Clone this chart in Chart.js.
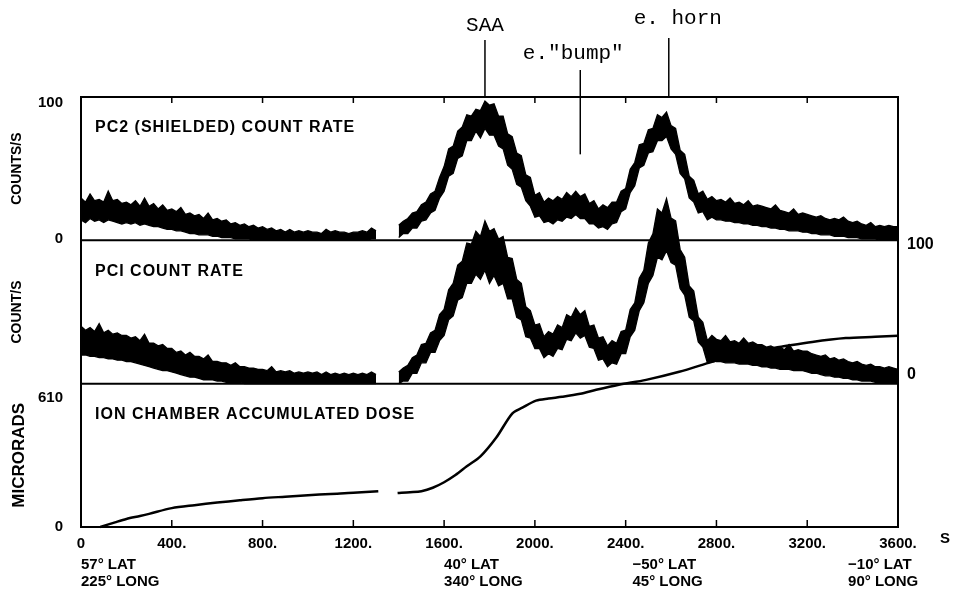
<!DOCTYPE html>
<html>
<head>
<meta charset="utf-8">
<script src="https://cdn.jsdelivr.net/npm/chart.js@4.4.1/dist/chart.umd.min.js"></script>
<style>
  html, body { margin: 0; padding: 0; background: #fff; }
  #wrap { width: 953px; height: 596px; }
</style>
</head>
<body>
<div id="wrap"><canvas id="myChart" width="953" height="596"></canvas></div>
<script>
// tiempo de vuelo (s), cada 20 s
const tiempos = [
  0, 20, 40, 60, 80, 100, 120, 140, 160, 180,
  200, 220, 240, 260, 280, 300, 320, 340, 360, 380,
  400, 420, 440, 460, 480, 500, 520, 540, 560, 580,
  600, 620, 640, 660, 680, 700, 720, 740, 760, 780,
  800, 820, 840, 860, 880, 900, 920, 940, 960, 980,
  1000, 1020, 1040, 1060, 1080, 1100, 1120, 1140, 1160, 1180,
  1200, 1220, 1240, 1260, 1280, 1300, 1320, 1340, 1360, 1380,
  1400, 1420, 1440, 1460, 1480, 1500, 1520, 1540, 1560, 1580,
  1600, 1620, 1640, 1660, 1680, 1700, 1720, 1740, 1760, 1780,
  1800, 1820, 1840, 1860, 1880, 1900, 1920, 1940, 1960, 1980,
  2000, 2020, 2040, 2060, 2080, 2100, 2120, 2140, 2160, 2180,
  2200, 2220, 2240, 2260, 2280, 2300, 2320, 2340, 2360, 2380,
  2400, 2420, 2440, 2460, 2480, 2500, 2520, 2540, 2560, 2580,
  2600, 2620, 2640, 2660, 2680, 2700, 2720, 2740, 2760, 2780,
  2800, 2820, 2840, 2860, 2880, 2900, 2920, 2940, 2960, 2980,
  3000, 3020, 3040, 3060, 3080, 3100, 3120, 3140, 3160, 3180,
  3200, 3220, 3240, 3260, 3280, 3300, 3320, 3340, 3360, 3380,
  3400, 3420, 3440, 3460, 3480, 3500, 3520, 3540, 3560, 3580,
  3600
];

// PC2 (shielded) counts/s: borde superior e inferior de la banda de ruido
const pc2Alto = [
  30, 27, 33, 28, 29, 27, 35, 28, 29, 26,
  27, 25, 28, 24, 30, 24, 26, 22, 25, 21,
  22, 20, 23, 18, 19, 17, 18, 15, 19, 14,
  15, 13, 14, 11, 12, 10, 11, 9, 10, 8,
  9, 7, 8, 6, 7, 5, 7, 5, 6, 5,
  6, 5, 5, 4, 7, 5, 6, 5, 5, 4,
  5, 5, 6, 5, 8, 6, null, null, null, null,
  10, 13, 15, 19, 20, 25, 27, 33, 35, 45,
  53, 66, 68, 79, 82, 91, 90, 95, 94, 101,
  98, 99, 90, 90, 77, 75, 63, 61, 47, 45,
  32, 34, 27, 30, 28, 31, 29, 34, 31, 35,
  31, 33, 26, 28, 22, 25, 23, 27, 27, 35,
  37, 51, 56, 69, 70, 80, 81, 91, 89, 93,
  83, 81, 65, 62, 46, 43, 33, 35, 29, 31,
  28, 29, 27, 30, 26, 27, 25, 28, 24, 25,
  24, 23, 22, 25, 21, 20, 19, 22, 18, 19,
  18, 17, 16, 17, 15, 14, 15, 14, 16, 13,
  12, 13, 11, 10, 12, 9, 10, 9, 10, 9,
  9
];
const pc2Bajo = [
  14, 12, 15, 13, 14, 12, 14, 13, 12, 11,
  12, 11, 12, 10, 11, 10, 9, 9, 8, 7,
  7, 6, 6, 5, 4, 4, 3, 3, 3, 2,
  2, 1, 1, 1, 0, 0, 0, 0, -1, -1,
  -1, -1, -1, -1, -1, -1, -1, -1, -1, -1,
  -1, -1, -1, -1, -1, -1, -1, -1, -1, -1,
  -1, -1, -1, -1, 0, 0, null, null, null, null,
  1, 4, 4, 8, 8, 13, 14, 19, 21, 30,
  35, 46, 48, 59, 61, 72, 72, 79, 74, 81,
  76, 76, 68, 66, 54, 51, 40, 38, 28, 24,
  16, 17, 12, 13, 11, 14, 13, 16, 15, 18,
  15, 15, 11, 11, 8, 9, 7, 11, 12, 20,
  22, 34, 39, 52, 54, 63, 64, 72, 72, 75,
  66, 62, 48, 44, 30, 27, 19, 20, 14, 16,
  14, 14, 13, 13, 12, 12, 11, 11, 10, 10,
  9, 9, 8, 8, 7, 7, 6, 6, 6, 5,
  5, 4, 4, 3, 3, 3, 2, 2, 2, 1,
  1, 1, 0, 0, 0, 0, -1, -1, -1, -1,
  -1
];

// PC1 counts/s: borde superior e inferior de la banda de ruido
const pc1Alto = [
  37, 34, 36, 33, 39, 32, 34, 31, 32, 30,
  30, 28, 29, 26, 31, 24, 24, 22, 23, 20,
  20, 17, 18, 15, 17, 14, 14, 12, 15, 10,
  10, 9, 9, 7, 9, 6, 6, 5, 5, 4,
  4, 3, 6, 2, 3, 2, 3, 1, 2, 1,
  2, 1, 2, 0, 2, 0, 1, 0, 1, 0,
  1, 0, 1, 0, 2, 0, null, null, null, null,
  2, 5, 7, 13, 15, 23, 24, 32, 34, 46,
  50, 65, 70, 84, 87, 101, 100, 110, 106, 118,
  110, 112, 104, 106, 90, 89, 73, 70, 52, 49,
  38, 39, 29, 33, 31, 38, 36, 46, 44, 51,
  46, 49, 37, 38, 28, 29, 22, 26, 24, 33,
  34, 50, 55, 74, 80, 101, 108, 127, 124, 135,
  120, 118, 96, 90, 68, 64, 44, 40, 26, 30,
  27, 26, 30, 25, 26, 24, 28, 24, 25, 23,
  23, 21, 22, 20, 21, 19, 23, 18, 19, 18,
  18, 16, 15, 14, 15, 12, 13, 11, 12, 10,
  9, 10, 8, 7, 8, 6, 6, 5, 6, 5,
  4
];
const pc1Bajo = [
  15, 15, 14, 14, 13, 13, 12, 12, 11, 11,
  10, 10, 9, 8, 7, 6, 5, 4, 3, 3,
  2, 1, 0, -1, -2, -2, -3, -4, -4, -4,
  -5, -5, -6, -6, -6, -6, -7, -7, -7, -7,
  -7, -7, -7, -7, -7, -7, -7, -7, -7, -7,
  -7, -7, -7, -7, -7, -7, -7, -7, -7, -7,
  -7, -7, -7, -7, -7, -7, null, null, null, null,
  -7, -5, -5, 1, 1, 9, 9, 17, 17, 26,
  30, 42, 45, 57, 59, 70, 70, 77, 73, 80,
  70, 76, 68, 70, 58, 58, 44, 42, 29, 28,
  20, 20, 13, 16, 14, 20, 19, 27, 26, 32,
  28, 30, 21, 20, 11, 12, 6, 9, 8, 16,
  16, 29, 34, 49, 55, 70, 76, 90, 88, 95,
  86, 84, 66, 61, 44, 41, 25, 21, 9, 11,
  10, 10, 9, 9, 9, 8, 8, 8, 7, 7,
  6, 6, 5, 5, 4, 4, 4, 3, 3, 3,
  2, 1, 1, 0, -1, -1, -2, -2, -3, -3,
  -4, -4, -5, -5, -5, -6, -6, -6, -6, -6,
  -6
];

// dosis acumulada (microrads)
const dosisTiempos = [85, 150, 200, 260, 300, 400, 500, 600, 700, 800, 900, 1000, 1100, 1200, 1310, 1350,
  1395, 1450, 1500, 1550, 1600, 1650, 1700, 1760, 1830, 1900, 1945, 2005, 2060, 2120, 2200, 2270,
  2370, 2490, 2636, 2780, 2930, 3077, 3222, 3370, 3500, 3600];
const dosis = [0, 22, 38, 52, 62, 89, 103, 115, 126, 136, 143, 150, 156, 161, 169, null,
  160, 164, 169, 185, 211, 245, 286, 333, 422, 535, 563, 596, 606, 614, 628, 647,
  671, 694, 732, 779, 825, 849, 873, 891, 897, 902];

const titulosPaneles = ['PC2 (SHIELDED) COUNT RATE', 'PCI COUNT RATE', 'ION CHAMBER ACCUMULATED DOSE'];

const anotTiempos = [1780, 2200, 2590];
const anotTextos = ['SAA', 'e."bump"', 'e. horn'];

const ubicTiempos = [0, 1600, 2430, 3380];
const ubicLat = ['57° LAT', '40° LAT', '−50° LAT', '−10° LAT'];
const ubicLong = ['225° LONG', '340° LONG', '45° LONG', '90° LONG'];

const sans = '"Liberation Sans", Arial, sans-serif';
const mono = '"Liberation Mono", "Courier New", monospace';

const puntos = (xs, ys) => xs.map((t, i) => ({ x: t, y: ys[i] }));

const decoracion = {
  id: 'decoracion',
  afterDatasetsDraw(chart) {
    const { ctx, chartArea: a, scales } = chart;
    const x = scales.x;
    const linea = (x1, y1, x2, y2) => {
      ctx.beginPath(); ctx.moveTo(x1, y1); ctx.lineTo(x2, y2); ctx.stroke();
    };
    ctx.save();
    ctx.strokeStyle = '#000';
    ctx.fillStyle = '#000';

    // marco superior y separadores de paneles
    ctx.lineWidth = 2;
    [scales.yA.top, scales.yA.bottom, scales.yB.bottom].forEach(y => linea(a.left, y, a.right, y));

    // marcas hacia adentro
    ctx.lineWidth = 1.5;
    x.ticks.forEach(t => {
      if (t.value <= 0 || t.value >= 3600) return;
      const px = x.getPixelForValue(t.value);
      linea(px, a.bottom, px, a.bottom - 7);
      linea(px, a.top, px, a.top + 6);
    });

    // titulos de panel
    ctx.font = 'bold 16px ' + sans;
    ctx.letterSpacing = '1px';
    ctx.textAlign = 'left';
    ctx.textBaseline = 'middle';
    [scales.yA, scales.yB, scales.yC].forEach((s, i) => {
      ctx.fillText(titulosPaneles[i], a.left + 14, s.top + 31);
    });
    ctx.letterSpacing = '0px';

    // anotaciones arriba
    const textoY = [25, 53, 18];
    const dx = [0, -7, 9];
    const lineaArriba = [40, 70, 38];
    const lineaAbajo = [a.top - 1, scales.yA.getPixelForValue(62), a.top - 1];
    ctx.font = '21px ' + mono;
    ctx.textAlign = 'center';
    ctx.lineWidth = 1.5;
    anotTiempos.forEach((t, i) => {
      const px = x.getPixelForValue(t);
      ctx.fillText(anotTextos[i], px + dx[i], textoY[i]);
      linea(px, lineaArriba[i], px, lineaAbajo[i]);
    });

    // latitud / longitud
    ctx.font = 'bold 15px ' + sans;
    ctx.textAlign = 'left';
    ubicTiempos.forEach((t, i) => {
      const px = x.getPixelForValue(t);
      ctx.fillText(ubicLat[i], px, a.bottom + 38);
      ctx.fillText(ubicLong[i], px, a.bottom + 55);
    });

    // unidad del eje
    ctx.fillText('S', a.right + 42, a.bottom + 12);
    ctx.restore();
  }
};

const ejeIzq = (extra) => Object.assign({
  type: 'linear', position: 'left', stack: 'izq', stackWeight: 1,
  grid: { display: false },
  border: { display: true, color: '#000', width: 2 },
  afterFit: s => { s.width = 81; }
}, extra);

const ejeDer = (extra) => Object.assign({
  type: 'linear', position: 'right', stack: 'der', stackWeight: 1,
  grid: { display: false },
  border: { display: true, color: '#000', width: 2 },
  afterFit: s => { s.width = 55; }
}, extra);

const tituloEje = (texto, size) => ({
  display: true, text: texto, color: '#000',
  font: { family: sans, size: size, weight: 'bold' },
  padding: { top: 9, bottom: 0 }
});

const ticksEje = (size) => ({ color: '#000', padding: 10, font: { family: sans, size: size, weight: 'bold' } });

const banda = (label, datos, eje, relleno) => ({
  label: label, data: puntos(tiempos, datos), yAxisID: eje,
  borderColor: '#000', backgroundColor: '#000', borderWidth: 1.3,
  pointRadius: 0, tension: 0, spanGaps: false, clip: false,
  fill: relleno
});

const ctx = document.getElementById('myChart');
new Chart(ctx, {
  type: 'line',
  data: {
    datasets: [
      banda('PC2 alto', pc2Alto, 'yA', false),
      banda('PC2 bajo', pc2Bajo, 'yA', '-1'),
      banda('PC1 alto', pc1Alto, 'rB', false),
      banda('PC1 bajo', pc1Bajo, 'rB', '-1'),
      { label: 'Dosis', data: puntos(dosisTiempos, dosis), yAxisID: 'yC', borderColor: '#000', borderWidth: 2.5, pointRadius: 0, tension: 0.3, spanGaps: false, clip: false }
    ]
  },
  options: {
    responsive: false,
    animation: false,
    events: [],
    layout: { padding: { top: 97, left: 0, right: 0, bottom: 0 } },
    plugins: { legend: { display: false }, tooltip: { enabled: false } },
    scales: {
      x: {
        type: 'linear', min: 0, max: 3600,
        grid: { display: false },
        border: { display: true, color: '#000', width: 2 },
        ticks: {
          stepSize: 400, autoSkip: false, maxRotation: 0, color: '#000', padding: 0,
          font: { family: sans, size: 15, weight: 'bold' },
          callback: v => v === 0 ? '0' : v + '.'
        },
        afterFit: s => { s.height = 69; }
      },
      // los ejes apilados se dibujan de abajo hacia arriba
      yC: ejeIzq({
        min: 0, max: 676,
        ticks: ticksEje(15),
        afterBuildTicks: s => { s.ticks = [{ value: 0 }, { value: 610 }]; },
        title: tituloEje('MICRORADS', 17)
      }),
      yB: ejeIzq({
        min: 0, max: 1,
        ticks: { display: false },
        title: tituloEje('COUNT/S', 14)
      }),
      yA: ejeIzq({
        min: -1, max: 104,
        ticks: ticksEje(15),
        afterBuildTicks: s => { s.ticks = [{ value: 0 }, { value: 100 }]; },
        title: tituloEje('COUNTS/S', 14)
      }),
      rC: ejeDer({ min: 0, max: 1, ticks: { display: false } }),
      rB: ejeDer({
        min: -7, max: 103,
        ticks: Object.assign(ticksEje(16), { padding: 1 }),
        afterBuildTicks: s => { s.ticks = [{ value: 0 }, { value: 100 }]; }
      }),
      rA: ejeDer({ min: 0, max: 1, ticks: { display: false } })
    }
  },
  plugins: [decoracion]
});
</script>
</body>
</html>
